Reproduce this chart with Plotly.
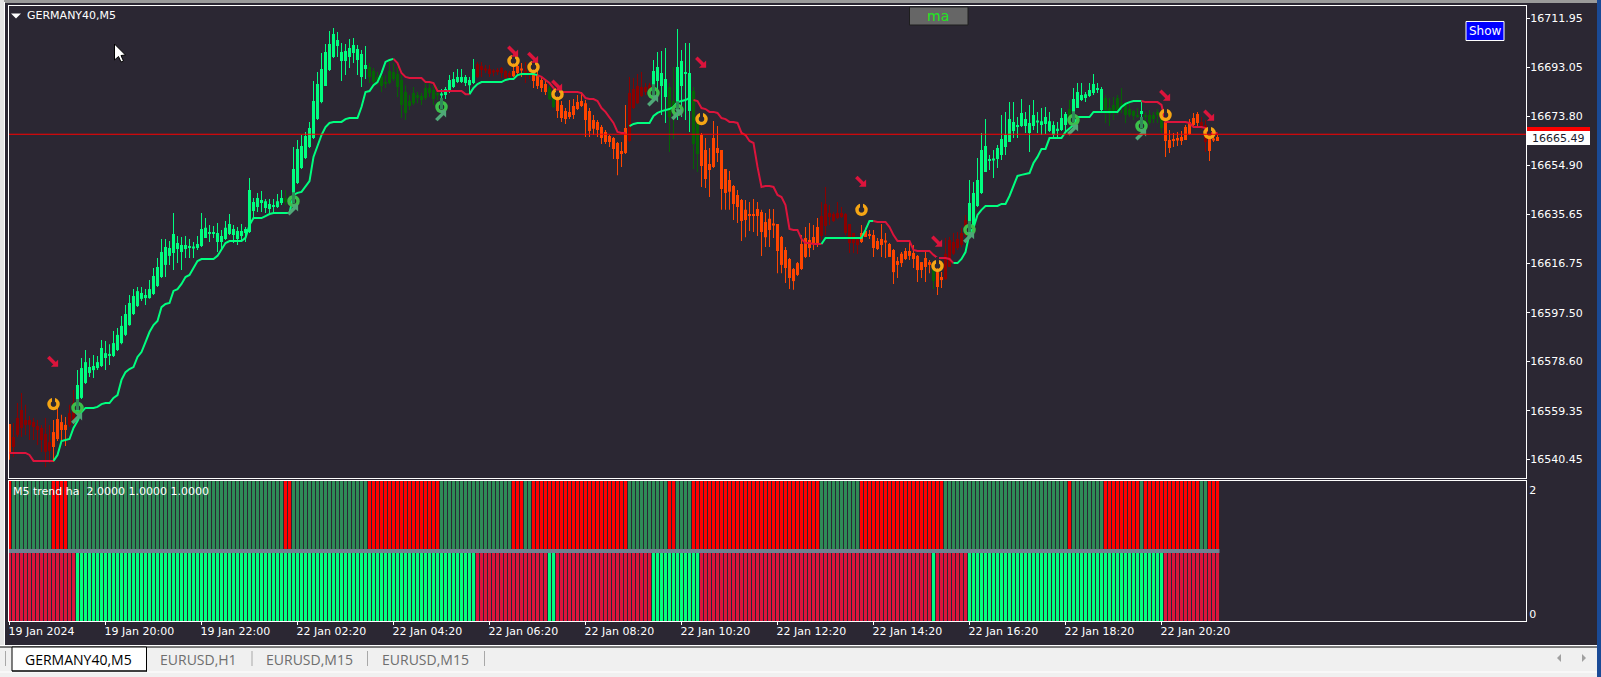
import plotly.graph_objects as go

W, H = 1601, 677
PRICE_BASE = 16500.0

WICK_HIGH = [
54.2,54.6,62.4,66.3,61.7,57.4,56.6,55.8,53.9,56.6,
53.9,55.8,60.5,57.8,57.0,61.7,67.5,75.2,79.9,83.0,
79.9,81.1,80.7,86.9,86.5,85.3,90.4,91.6,96.2,100.5,
104.4,106.7,107.5,107.5,106.7,110.2,114.9,118.8,126.2,126.2,
125.4,136.3,127.3,127.0,127.3,126.2,125.0,127.3,136.3,134.3,
131.6,131.2,132.4,129.7,133.2,135.9,131.6,130.8,132.0,130.8,
149.9,142.1,144.1,144.8,141.7,141.7,141.7,143.7,145.2,145.2,
143.3,161.9,164.7,166.6,167.8,171.7,187.6,191.1,198.5,202.0,
207.0,208.2,206.7,202.4,202.0,203.9,204.3,201.6,199.7,201.2,
194.6,192.7,191.1,191.9,189.9,195.4,194.6,193.0,189.9,186.0,
182.2,185.3,183.3,182.9,186.8,187.6,186.8,185.3,184.5,185.3,
189.9,191.1,192.3,192.3,189.9,189.2,196.2,195.0,195.0,193.8,
193.8,192.3,192.7,193.0,191.9,191.5,195.0,195.0,194.6,195.0,
193.0,194.6,191.5,188.8,188.0,185.7,184.1,182.2,179.8,177.1,
180.2,180.6,182.2,183.3,180.2,177.1,174.4,172.4,170.5,168.6,
166.6,165.8,163.9,163.9,178.3,189.2,188.8,190.3,191.1,186.8,
186.8,195.8,198.9,199.3,200.4,186.8,193.0,207.8,199.7,202.4,
202.4,185.3,173.2,167.4,165.4,161.6,172.1,170.1,160.8,153.4,
152.6,147.2,145.2,141.7,141.3,140.6,141.7,140.6,137.5,136.3,
137.8,137.8,132.0,127.3,123.1,118.8,114.9,117.2,127.7,130.8,
132.4,131.6,134.3,140.6,146.4,139.4,136.7,140.6,138.6,136.3,
132.0,128.5,127.0,131.6,130.5,129.7,129.7,126.6,132.0,128.5,
124.6,122.3,119.2,121.1,122.7,124.6,123.8,120.0,117.2,121.9,
118.0,116.8,114.9,113.3,126.6,127.0,128.5,128.9,130.5,135.5,
149.1,148.3,157.7,167.4,172.8,158.8,160.8,162.7,174.4,175.6,
179.4,179.4,173.6,180.6,175.6,178.3,180.2,175.6,177.1,177.5,
175.6,172.0,171.7,177.1,175.6,180.2,184.9,186.8,186.8,183.3,
186.8,190.3,186.8,185.3,182.2,181.0,181.4,182.2,184.9,179.4,
179.0,176.3,177.1,179.4,175.6,176.3,175.6,176.7,175.2,172.4,
168.6,167.4,167.8,168.2,170.5,172.8,175.2,175.6,173.6,172.4,
169.7,165.8,166.6]

BODY_TOP = [
54.2,49.2,56.6,59.7,55.8,55.8,55.0,53.5,52.7,50.4,
47.2,51.1,56.2,55.0,53.9,58.5,62.4,69.4,76.0,78.3,
76.4,76.8,78.3,83.8,81.8,81.5,85.7,88.9,92.4,97.0,
101.3,104.0,105.9,105.2,104.4,106.7,111.8,115.3,121.1,123.1,
122.7,128.1,124.6,123.8,123.8,123.5,123.1,124.2,130.1,130.5,
128.9,128.9,128.5,127.3,130.5,132.0,130.1,129.3,129.3,130.1,
145.2,140.6,142.1,141.3,140.9,139.8,139.4,140.9,142.1,142.1,
142.1,153.4,161.2,162.3,166.2,169.3,179.8,186.4,192.3,198.9,
202.0,205.9,203.5,198.9,199.3,200.4,201.6,200.0,198.1,193.8,
193.0,191.5,189.2,189.5,187.2,191.5,191.1,190.3,188.0,183.3,
179.8,182.9,182.2,181.8,184.9,184.9,184.1,182.9,182.5,184.5,
188.0,188.4,189.2,189.2,189.2,188.0,192.3,194.2,193.4,192.3,
192.3,191.5,191.9,192.7,191.5,190.7,191.5,193.4,192.3,191.9,
191.1,190.7,189.9,188.0,186.4,184.9,182.2,181.0,178.3,175.9,
175.6,177.9,179.4,179.8,179.0,175.9,172.4,171.7,169.7,167.8,
166.2,165.4,163.5,160.4,169.3,182.9,184.5,185.7,185.3,185.3,
186.0,191.5,193.0,190.7,188.4,185.3,179.8,193.0,195.4,191.1,
190.7,183.7,171.3,166.6,160.8,155.3,165.4,161.6,160.8,153.4,
149.1,146.8,143.3,141.3,137.5,135.9,135.9,137.8,136.7,132.8,
134.0,132.0,132.0,127.0,121.9,118.4,114.5,116.8,124.2,126.6,
125.8,127.0,130.8,135.1,139.8,136.3,135.9,136.3,136.3,135.9,
132.0,128.5,126.6,128.5,129.3,128.1,127.7,125.4,126.2,125.4,
124.2,121.9,117.6,120.4,121.5,121.5,120.7,119.6,117.2,118.8,
117.2,114.9,113.3,111.4,120.4,125.8,125.0,126.2,128.5,133.6,
140.2,144.1,149.1,160.8,162.3,157.3,157.3,161.6,165.1,166.6,
172.8,171.7,170.5,175.2,172.8,171.3,174.4,172.0,172.0,173.6,
172.0,170.5,169.0,173.2,174.8,176.7,180.6,183.3,182.2,182.5,
184.1,186.4,184.9,184.5,181.0,177.1,178.3,181.0,179.0,179.0,
176.7,175.9,174.4,175.9,174.4,174.4,174.4,175.6,174.4,171.7,
164.7,165.1,165.4,165.8,169.7,171.7,173.2,174.8,171.7,170.5,
166.6,165.1,165.8]

BODY_BOTTOM = [
43.0,45.3,50.0,52.7,53.9,53.9,53.1,51.9,48.0,43.4,
43.8,45.3,48.4,51.9,51.9,53.9,54.6,58.5,64.4,70.2,
74.1,75.2,76.0,76.8,79.9,80.7,80.7,83.0,85.7,88.9,
92.7,97.0,100.1,102.9,103.2,103.2,104.8,107.9,111.4,116.1,
119.6,120.7,122.3,121.1,122.3,122.7,122.7,122.7,123.5,126.6,
128.1,128.1,125.0,125.0,126.2,128.1,127.7,126.2,127.3,128.5,
128.9,137.1,138.6,140.2,138.2,137.8,138.6,138.6,140.2,140.6,
140.6,143.3,147.9,153.8,157.7,161.9,165.4,172.8,179.4,185.7,
191.9,196.9,201.2,195.4,195.4,196.9,198.5,195.8,189.2,192.3,
189.2,187.2,187.6,185.7,186.4,186.8,188.4,185.3,178.3,175.2,
177.9,179.0,181.0,180.2,181.0,182.9,180.6,182.2,182.2,182.2,
183.3,185.3,187.2,187.2,186.8,186.0,186.8,189.2,191.9,191.9,
190.3,191.1,191.1,190.7,188.8,189.2,189.5,190.7,191.9,190.7,
190.3,187.6,185.7,184.9,183.3,180.6,177.5,175.9,173.2,172.8,
173.6,174.4,176.7,177.9,172.4,168.2,169.0,168.6,165.4,163.9,
163.9,161.2,157.3,159.2,159.6,164.3,177.1,179.0,181.8,183.3,
182.9,184.9,187.6,185.7,181.4,173.6,176.3,179.0,185.7,190.3,
175.9,163.1,159.2,154.6,149.5,153.0,154.2,159.6,145.6,144.1,
144.5,139.8,138.6,133.2,133.6,135.1,135.1,135.1,128.9,126.9,
129.7,131.6,121.5,116.1,114.9,111.0,109.8,112.2,114.5,119.2,
122.7,124.6,124.6,127.3,131.2,134.7,133.2,134.3,134.7,128.5,
124.6,124.6,123.8,125.0,127.0,127.3,122.7,122.3,123.8,125.0,
119.2,113.3,116.1,116.8,118.4,119.6,118.4,114.1,114.1,115.3,
116.1,109.8,107.5,110.2,110.6,115.3,120.4,122.7,123.8,127.7,
129.7,130.8,139.0,144.1,152.2,156.5,156.9,157.3,158.8,161.9,
163.9,168.2,169.7,170.1,170.1,167.4,170.1,171.7,170.5,170.9,
168.2,166.6,168.2,168.6,170.5,171.7,174.4,177.1,180.2,181.0,
181.8,182.9,184.1,176.3,176.3,174.8,175.6,176.3,178.3,174.4,
174.4,174.0,173.6,174.8,173.6,171.3,172.8,174.4,169.3,164.3,
161.6,164.3,164.7,164.3,164.7,167.0,170.5,171.3,169.3,163.9,
160.4,164.7,164.3]

WICK_LOW = [
40.3,41.4,49.2,49.2,50.0,48.0,48.0,46.1,43.4,37.5,
39.1,39.5,47.6,48.0,45.7,53.1,53.9,58.1,64.0,69.8,
72.5,72.1,75.2,76.4,75.2,77.2,80.3,82.6,85.3,88.5,
92.4,96.6,99.7,102.1,100.5,102.9,104.4,107.5,111.0,111.4,
116.1,114.1,116.8,114.1,118.8,118.8,118.8,121.9,123.1,126.6,
125.0,126.6,121.1,121.9,125.8,127.7,124.6,123.8,125.0,125.0,
128.5,134.3,136.7,136.7,136.3,136.3,136.3,138.2,139.4,139.4,
139.4,142.9,147.6,153.4,157.3,161.6,165.1,172.4,179.0,185.7,
191.5,196.5,196.9,187.6,189.9,192.7,194.6,189.9,185.3,188.4,
186.8,185.3,186.0,183.3,184.9,186.4,187.6,181.4,173.2,172.4,
176.3,178.3,179.0,178.3,180.2,181.4,178.3,180.2,180.2,180.6,
182.9,184.9,186.8,186.8,185.7,182.5,186.4,188.8,189.2,190.7,
189.2,189.5,189.9,188.8,188.4,188.4,189.2,190.3,189.2,186.8,
188.4,184.9,184.5,183.3,182.2,180.2,177.1,173.2,171.7,170.9,
172.8,172.8,176.3,177.5,165.8,165.8,166.6,165.8,163.1,163.1,
161.9,157.3,151.0,154.2,159.2,163.9,176.7,178.7,181.4,182.2,
182.2,183.7,181.4,174.4,171.3,160.0,165.1,172.4,173.6,172.4,
167.8,153.4,152.2,146.4,146.0,142.5,153.8,156.1,137.5,137.5,
137.5,133.6,132.4,125.4,126.9,129.3,128.9,127.3,119.6,123.1,
123.1,126.6,112.9,112.9,109.1,106.7,106.4,111.8,114.1,118.8,
119.2,121.9,123.1,125.8,127.7,131.6,132.8,133.9,134.3,127.7,
120.7,120.7,120.3,124.6,127.0,126.2,119.2,121.9,119.2,118.8,
119.2,108.7,111.0,115.3,118.0,118.0,114.9,109.5,111.0,109.5,
112.9,106.7,104.4,107.1,110.2,115.3,120.0,121.9,123.1,127.0,
128.5,130.8,138.6,143.7,152.2,153.0,149.9,153.8,156.9,158.8,
163.9,165.4,165.4,169.7,167.4,160.0,168.6,167.4,166.6,167.0,
167.8,165.8,165.8,168.2,167.4,171.7,173.6,177.1,179.8,179.4,
181.4,182.2,182.9,175.9,171.3,170.1,172.4,174.4,175.2,171.3,
173.6,172.4,173.2,173.2,170.5,170.5,171.3,171.3,167.4,158.1,
159.6,161.9,162.3,162.7,164.7,166.6,170.1,169.7,168.6,160.0,
156.5,163.9,164.3]

TREND_LINE = [
43.0,43.0,43.0,43.0,43.0,42.2,39.9,39.9,39.9,39.9,
39.9,39.9,42.2,47.6,48.0,48.4,52.7,55.4,58.9,60.5,
60.5,60.5,60.9,62.0,62.4,62.4,64.4,65.5,71.4,74.4,
75.6,76.4,80.3,82.2,86.1,90.0,92.7,94.3,99.7,100.9,
101.3,106.0,106.7,108.7,111.4,112.2,114.9,117.6,118.4,118.4,
118.4,118.4,119.6,122.3,124.6,125.4,125.4,125.4,125.4,126.6,
131.6,134.3,134.3,134.3,135.1,135.9,136.3,136.3,136.3,136.3,
136.3,143.3,144.1,144.5,146.4,148.7,158.1,162.7,166.6,169.7,
171.3,171.7,171.7,171.7,172.8,173.2,173.2,173.2,177.5,183.3,
183.7,186.0,187.2,190.7,195.0,195.8,196.2,194.6,190.7,189.2,
188.8,188.8,188.8,188.8,187.2,187.2,186.8,183.7,183.7,183.7,
183.7,183.7,183.7,183.7,182.5,182.5,184.9,186.4,187.2,187.2,
187.2,187.2,187.2,187.2,188.0,188.4,188.4,189.9,190.3,190.3,
190.3,190.3,189.9,189.2,188.0,186.8,184.9,183.3,183.3,183.3,
183.3,183.3,183.3,182.9,181.0,180.6,180.6,179.8,177.1,175.6,
173.6,171.3,167.8,167.4,167.4,170.1,170.9,171.3,171.3,171.3,
171.3,174.0,175.2,175.9,176.3,176.7,177.5,179.4,179.8,180.2,
181.0,180.2,179.8,177.1,176.7,175.6,175.6,175.2,173.2,172.8,
171.7,171.7,171.3,167.4,166.6,164.3,163.5,154.2,146.4,146.8,
146.8,146.4,143.3,142.5,139.4,130.1,129.7,129.7,126.2,124.6,
124.6,124.2,124.2,124.2,126.6,126.6,126.6,126.6,126.6,126.6,
126.6,126.6,126.6,126.6,129.7,133.2,133.2,132.8,132.8,132.8,
130.8,127.7,125.4,125.4,125.4,125.4,121.9,121.5,121.5,121.5,
121.5,120.0,118.8,118.8,118.8,118.4,116.8,116.8,118.4,121.1,
128.5,130.5,135.5,137.5,139.0,139.0,139.0,139.0,139.8,139.8,
142.9,147.2,150.7,151.1,151.5,151.8,155.7,158.1,161.2,161.2,
165.4,165.4,165.4,165.4,167.8,169.3,170.5,173.6,173.6,173.6,
173.6,175.6,175.6,175.6,175.6,175.6,175.6,175.6,177.5,178.7,
179.4,179.8,179.8,179.8,179.4,179.4,179.4,179.4,178.3,171.7,
171.7,171.7,171.7,171.7,171.7,171.3,169.7,169.7,169.7,169.3,
167.4,167.4,167.4]

# (colour state, first bar, last bar) of each stretch of the trend line
LINE_SEGMENTS = [("dn",0,11),("up",11,96),("dn",96,115),("up",115,132),("dn",132,154),
                 ("up",155,170),("dn",171,203),("up",203,216),("dn",216,236),("up",236,283),("dn",283,302)]

UPPER_RUNS = [("r",1),("g",10),("r",4),("g",54),("r",2),("g",19),("r",18),("g",18),("r",3),("g",2),
              ("r",24),("g",10),("r",2),("g",4),("r",32),("g",10),("r",21),("g",31),("r",1),("g",8),
              ("r",9),("g",1),("r",14),("g",2),("r",3)]
LOWER_RUNS = [("r",17),("g",100),("r",18),("g",2),("r",24),("g",12),("r",58),("g",1),("r",8),("g",49),("r",14)]

SIGNAL_BARS = [11,126,131,137,173,213,232,289,300]
SIGNAL_DOT = [62.0,195.4,193.0,182.5,172.8,137.5,115.7,174.4,167.4]
SIGNAL_ARROW = [78.3,198.9,196.5,185.7,194.6,148.3,125.0,181.8,174.0]
BUY_BARS = [17,71,108,161,167,240,266,283]
BUY_DOT = [60.5,140.9,177.5,182.9,176.3,129.7,172.4,170.1]
BUY_ARROW = [56.6,137.8,174.4,180.2,174.8,127.0,168.9,167.0]

TICK_BARS = [0,24,48,72,96,120,144,168,192,216,240,264,288]
TICK_LABELS = ["19 Jan 2024","19 Jan 20:00","19 Jan 22:00","22 Jan 02:20","22 Jan 04:20","22 Jan 06:20",
               "22 Jan 08:20","22 Jan 10:20","22 Jan 12:20","22 Jan 14:20","22 Jan 16:20","22 Jan 18:20","22 Jan 20:20"]
PRICE_TICKS = [16711.95,16693.05,16673.80,16654.90,16635.65,16616.75,16597.50,16578.60,16559.35,16540.45]
LAST_PRICE = 16665.49
RED_LINE_PRICE = 16666.9
TABS = ["EURUSD,H1","EURUSD,M15","EURUSD,M15"]

BG = "#2B2733"
FONT = "DejaVu Sans"
TAB_FONT = "Open Sans"

def expand(runs):
    out = []
    for s, n in runs:
        out += [s] * n
    return out

upper = expand(UPPER_RUNS)
lower = expand(LOWER_RUNS)
n = len(TREND_LINE)
assert all(len(a) == n for a in (WICK_HIGH, WICK_LOW, BODY_TOP, BODY_BOTTOM, upper, lower)), \
    [len(a) for a in (WICK_HIGH, WICK_LOW, BODY_TOP, BODY_BOTTOM, upper, lower, TREND_LINE)]

candle_colour = {("g","g"):"#00FF7F",("r","g"):"#056305",("g","r"):"#8B0000",("r","r"):"#FF4500"}
colours = [candle_colour[(u, l)] for u, l in zip(upper, lower)]
bars = list(range(n))
P = lambda a: [PRICE_BASE + v for v in a]
px = lambda x: x / W
py = lambda y: 1 - y / H

fig = go.Figure()
# wicks + bodies
fig.add_bar(x=bars, base=P(WICK_LOW), y=[h - l for h, l in zip(WICK_HIGH, WICK_LOW)], width=0.25,
            marker=dict(color=colours, line_width=0), xaxis="x", yaxis="y")
fig.add_bar(x=bars, base=P(BODY_BOTTOM), y=[t - b for t, b in zip(BODY_TOP, BODY_BOTTOM)], width=0.75,
            marker=dict(color=colours, line_width=0), xaxis="x", yaxis="y")
# trend line
for state, a, b in LINE_SEGMENTS:
    fig.add_scatter(x=bars[a:b + 1], y=P(TREND_LINE[a:b + 1]), mode="lines",
                    line=dict(color="#00FF7F" if state == "up" else "#DC143C", width=2),
                    xaxis="x", yaxis="y")
# signals
def dots(xs, ys, col, slit):
    fig.add_scatter(x=xs, y=P(ys), mode="markers", xaxis="x", yaxis="y",
                    marker=dict(symbol="circle-open", size=9, color=col, line=dict(color=col, width=3.5)))
    fig.add_scatter(x=xs, y=[PRICE_BASE + v + 1.3 for v in ys], mode="markers", xaxis="x", yaxis="y",
                    marker=dict(symbol="line-ns", size=8, color=slit, line=dict(color=slit, width=3)))

def arrows(xs, ys, col, shaft, head, head_dy):
    # head sits in the arrow's pointing corner, shaft runs back through the centre
    fig.add_scatter(x=[v - 0.3 for v in xs], y=[PRICE_BASE + v - head_dy * 0.5 for v in ys],
                    mode="markers", xaxis="x", yaxis="y",
                    marker=dict(symbol=shaft, size=8, color=col, line=dict(color=col, width=3.5)))
    fig.add_scatter(x=[v + 0.55 for v in xs], y=[PRICE_BASE + v + head_dy for v in ys],
                    mode="markers", xaxis="x", yaxis="y",
                    marker=dict(symbol=head, size=8, color=col, line_width=0))

dots(SIGNAL_BARS, SIGNAL_DOT, "#F5A514", BG)
arrows(SIGNAL_BARS, SIGNAL_ARROW, "#DC143C", "line-nw", "triangle-se", -0.9)
dots(BUY_BARS, BUY_DOT, "#3CBF4A", "#2E8B57")
arrows(BUY_BARS, BUY_ARROW, "#4FA878", "line-ne", "triangle-ne", 0.9)

# lower panel
fig.add_bar(x=bars, base=[1.0] * n, y=[1.0] * n, width=0.75,
            marker=dict(color=["#2E8B57" if s == "g" else "#FF0000" for s in upper], line_width=0),
            xaxis="x2", yaxis="y2")
fig.add_bar(x=bars, base=[0.0] * n, y=[1.0] * n, width=0.75,
            marker=dict(color=["#00FF7F" if s == "g" else "#DC143C" for s in lower], line_width=0),
            xaxis="x2", yaxis="y2")
fig.add_scatter(x=[-0.5, n - 0.5], y=[1, 1], mode="lines", line=dict(color="#708090", width=4),
                xaxis="x2", yaxis="y2")

axis_common = dict(showgrid=False, zeroline=False, showline=True, mirror=True, linecolor="#FFFFFF", linewidth=1)
x_range = [-0.125, 379.125]
text_font = dict(family=FONT, size=11, color="#FFFFFF")

layout = dict(
    width=W, height=H, margin=dict(l=0, r=0, t=0, b=0, autoexpand=False),
    paper_bgcolor=BG, plot_bgcolor=BG, showlegend=False, barmode="overlay", hovermode=False,
    xaxis=dict(domain=[px(9), px(1526)], range=x_range, anchor="y", showticklabels=False, ticks="", **axis_common),
    yaxis=dict(domain=[py(478), py(5.5)], range=[16533.25, 16716.96], anchor="x", side="right",
               tickvals=PRICE_TICKS, ticktext=[f"{v:.2f}" for v in PRICE_TICKS], ticklabelstandoff=-2,
               ticks="outside", ticklen=3, tickcolor="#FFFFFF", tickfont=text_font, **axis_common),
    xaxis2=dict(domain=[px(9), px(1526)], range=x_range, anchor="y2", tickvals=TICK_BARS, ticktext=TICK_LABELS,
                ticks="outside", ticklen=3, tickcolor="#FFFFFF", tickfont=text_font, ticklabelshift=-2,
                ticklabelposition="outside right", tickangle=0, **axis_common),
    yaxis2=dict(domain=[py(621), py(481)], range=[0, 2], anchor="x2", side="right",
                tickvals=[0.104, 1.87], ticktext=["0", "2"], ticks="", tickfont=text_font, **axis_common),
)

shapes = []
def rect(x0, y0, x1, y1, fill, line=None, lw=0):
    shapes.append(dict(type="rect", xref="paper", yref="paper", x0=px(x0), x1=px(x1), y0=py(y0), y1=py(y1),
                       fillcolor=fill, line=dict(color=line or fill, width=lw), layer="above"))
def path(d, fill, line=None, lw=0):
    shapes.append(dict(type="path", xref="paper", yref="paper", path=d, fillcolor=fill,
                       line=dict(color=line or fill, width=lw), layer="above"))
def poly(pts):
    return "M" + " L".join(f"{px(x)},{py(y)}" for x, y in pts) + " Z"

# red price line
shapes.append(dict(type="line", xref="x", yref="y", x0=x_range[0], x1=x_range[1], y0=RED_LINE_PRICE, y1=RED_LINE_PRICE,
                   line=dict(color="#FF0000", width=1), layer="above"))
# window chrome
rect(0, 0, W, 3, "#9A9A9A")
rect(0, 0, 4, 645, "#E4E4E4")
rect(4, 2, 5, 645, "#FFFFFF")
rect(1597, 0, W, H, "#1A4A96")
rect(0, 645, 1597, H, "#F0F0F0")
rect(0, 645, 1597, 647, "#FFFFFF")
rect(0, 646.5, 1597, 647.5, "#000000")
rect(0, 671.5, 1597, 672.5, "#FFFFFF")
rect(12, 647, 146.5, 671, "#FFFFFF", "#000000", 1)
rect(146, 647, 147, 671.5, "#000000")
rect(12, 670.5, 147, 671.5, "#000000")
for sx in (251.5, 367, 484):
    rect(sx, 651, sx + 1, 666, "#A8A8A8")
rect(5, 651, 6, 666, "#A8A8A8")
path(poly([(1561, 654), (1561, 662), (1557, 658)]), "#A0A0A0")
path(poly([(1582, 654), (1582, 662), (1586, 658)]), "#A0A0A0")
# price label boxes
rect(1527, 127, 1590, 131, "#FF0000")
rect(1527, 131, 1590, 145, "#FFFFFF")
# buttons
rect(1466, 21.5, 1504, 40.5, "#0000FF", "#FFFFFF", 1)
rect(909.5, 7, 968, 25, "#666666", "#1E1E1E", 1)
# title triangle + mouse cursor
path(poly([(11, 13.5), (21, 13.5), (16, 18.5)]), "#FFFFFF")
path(poly([(114.5, 44), (114.5, 60), (118.5, 56.5), (121, 62), (123.5, 61), (121, 55.5), (125.5, 55)]),
     "#FFFFFF", "#000000", 1)
layout["shapes"] = shapes

def note(x, y, text, colour="#FFFFFF", size=11, anchor="left", family=FONT):
    return dict(xref="paper", yref="paper", x=px(x), y=py(y), text=text, showarrow=False, xanchor=anchor,
                yanchor="middle", font=dict(family=family, size=size, color=colour), align=anchor,
                borderpad=0, borderwidth=0)

ann = [
    note(27, 15.5, "GERMANY40,M5"),
    note(13, 491.5, "M5 trend ha  2.0000 1.0000 1.0000"),
    note(1532, 138, f"{LAST_PRICE:.2f}", "#1C1C2E"),
    note(1485, 31, "Show", size=12, anchor="center"),
    note(938, 16, "ma", "#1FE81F", size=14, anchor="center"),
    note(78, 659.5, "GERMANY40,M5", "#000000", size=14, anchor="center", family=TAB_FONT),
    note(198.5, 659.5, TABS[0], "#6E6E6E", size=14, anchor="center", family=TAB_FONT),
    note(309, 659.5, TABS[1], "#6E6E6E", size=14, anchor="center", family=TAB_FONT),
    note(425.5, 659.5, TABS[2], "#6E6E6E", size=14, anchor="center", family=TAB_FONT),
]
layout["annotations"] = ann
fig.update_layout(**layout)

fig.write_html("out.html", config=dict(displayModeBar=False),
               post_script="document.body.style.margin='0';document.body.style.overflow='hidden';")
